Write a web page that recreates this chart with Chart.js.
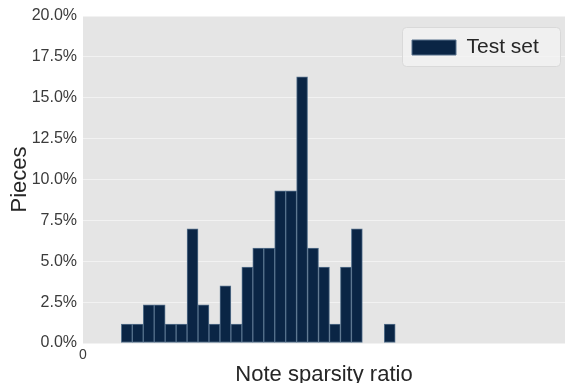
<!DOCTYPE html>
<html lang="en">
<head>
    <meta charset="UTF-8">
    <title>Note sparsity ratio</title>
    <style>
        html, body { margin: 0; padding: 0; background: #ffffff; }
        #grafico { width: 565px; height: 383px; }
    </style>
</head>
<body>
    <div id="grafico">
        <canvas id="myChart" width="565" height="383"></canvas>
    </div>

<script src="https://cdn.jsdelivr.net/npm/chart.js"></script>
<script>
    // histogram bins (bin centres, axis starts at 0) and share of pieces in %
    const binCentres = [4, 5, 6, 7, 8, 9, 10, 11, 12, 13, 14, 15, 16, 17, 18, 19, 20, 21, 22, 23, 24, 25, 26, 27, 28];
    const piecesPct  = [1.16, 1.16, 2.33, 2.33, 1.16, 1.16, 6.98, 2.33, 1.16, 3.49, 1.16, 4.65, 5.81, 5.81,
                        9.30, 9.30, 16.28, 5.81, 4.65, 1.16, 4.65, 6.98, 0, 0, 1.16];
    const yTicks = [0, 2.5, 5, 7.5, 10, 12.5, 15, 17.5, 20];
    const xTicks = [0];
    const xRange = [0, 44];

    const fonte = 'Liberation Sans, Arial, sans-serif';

    // grey plot panel + legend frame drawn behind the legend text
    const painel = {
        id: 'painel',
        beforeDraw(chart) {
            const { ctx, chartArea: a } = chart;
            ctx.save();
            ctx.fillStyle = '#e5e5e5';
            ctx.fillRect(a.left, a.top, a.right - a.left, a.bottom - a.top);
            ctx.restore();
        },
        afterLayout(chart) {
            const lg = chart.legend;
            const a = chart.chartArea;
            const w = 158, h = 39;
            lg.left = a.right - 5 - w;
            lg.right = lg.left + w;
            lg.top = a.top + 11;
            lg.bottom = lg.top + h;
            lg.width = w;
            lg.height = h;
            if (!lg._framePatched) {
                const original = lg.draw.bind(lg);
                lg.draw = function () {
                    const ctx = chart.ctx;
                    ctx.save();
                    ctx.fillStyle = 'rgba(242,242,242,0.8)';
                    ctx.strokeStyle = '#d9d9d9';
                    ctx.lineWidth = 1;
                    ctx.beginPath();
                    ctx.roundRect(lg.left + 0.5, lg.top + 0.5, lg.width, lg.height, 4);
                    ctx.fill();
                    ctx.stroke();
                    ctx.restore();
                    original();
                };
                lg._framePatched = true;
            }
        }
    };

    const ctx = document.getElementById('myChart');

    new Chart(ctx, {
        type: 'bar',
        data: {
            datasets: [{
                label: 'Test set',
                data: binCentres.map((x, i) => ({ x: x, y: piecesPct[i] })),
                backgroundColor: '#0a2545',
                borderColor: '#56718c',
                borderWidth: 1,
                borderSkipped: false,
                barPercentage: 1,
                categoryPercentage: 1
            }]
        },
        options: {
            responsive: false,
            animation: false,
            layout: { padding: { top: 16, right: 0, bottom: 0, left: 0 } },
            plugins: {
                tooltip: { enabled: false },
                legend: {
                    position: 'chartArea',
                    align: 'start',
                    labels: {
                        boxWidth: 44,
                        boxHeight: 15,
                        padding: 10,
                        color: '#262626',
                        font: { family: fonte, size: 21 }
                    }
                }
            },
            scales: {
                x: {
                    type: 'linear',
                    offset: false,
                    min: xRange[0],
                    max: xRange[1],
                    grid: { display: false, drawTicks: false },
                    border: { display: false },
                    afterBuildTicks: s => { s.ticks = xTicks.map(v => ({ value: v })); },
                    afterFit: s => { s.height = 40; },
                    ticks: {
                        autoSkip: false,
                        maxRotation: 0,
                        padding: 4,
                        color: '#3b3b3b',
                        font: { family: fonte, size: 14 },
                        callback: v => String(v)
                    },
                    title: {
                        display: true,
                        text: 'Note sparsity ratio',
                        color: '#262626',
                        font: { family: fonte, size: 22 },
                        padding: { top: 0, bottom: -5 }
                    }
                },
                y: {
                    min: 0,
                    max: 20,
                    afterBuildTicks: s => { s.ticks = yTicks.map(v => ({ value: v })); },
                    afterFit: s => { s.width = 83; },
                    grid: { color: '#f2f2f2', lineWidth: 1, drawTicks: false },
                    border: { display: false },
                    ticks: {
                        padding: 6,
                        color: '#3b3b3b',
                        font: { family: fonte, size: 16 },
                        callback: v => v.toFixed(1) + '%'
                    },
                    title: {
                        display: true,
                        text: 'Pieces',
                        color: '#262626',
                        font: { family: fonte, size: 22 },
                        padding: { top: 7, bottom: 0 }
                    }
                }
            }
        },
        plugins: [painel]
    });
</script>
</body>
</html>
